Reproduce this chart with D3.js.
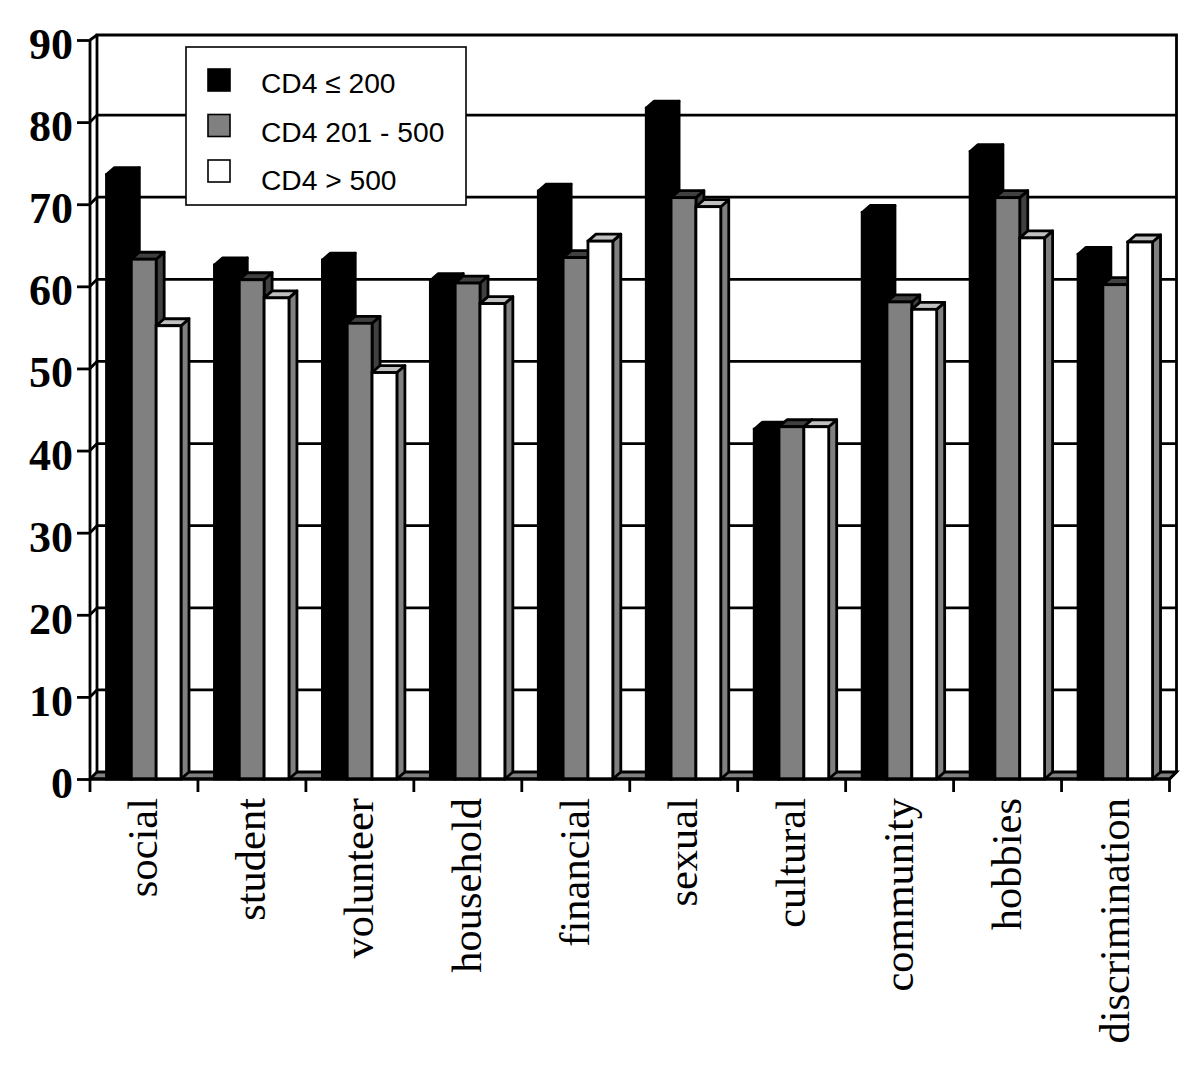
<!DOCTYPE html>
<html><head><meta charset="utf-8">
<script src="https://cdnjs.cloudflare.com/ajax/libs/d3/7.8.5/d3.min.js"></script>
<style>html,body{margin:0;background:#fff}svg{display:block}</style></head>
<body><svg id="c" width="1200" height="1068"></svg>
<script>
const categories=["social","student","volunteer","household","financial","sexual","cultural","community","hobbies","discrimination"];
const seriesNames=["CD4 ≤ 200","CD4 201 - 500","CD4 > 500"];
const low=[73.6,62.6,63.2,60.7,71.6,81.7,42.6,69.0,76.4,63.9];
const mid=[63.3,60.8,55.5,60.4,63.5,70.8,42.9,58.1,70.8,60.2];
const high=[55.2,58.6,49.5,57.9,65.5,69.7,42.9,57.2,65.9,65.4];
const yTicks=[0,10,20,30,40,50,60,70,80,90];
const faceColors=["#000","#808080","#fff"];
const topColors=["#000","#404040","#c0c0c0"];
const sideColors=["#000","#404040","#808080"];

const svg=d3.select("#c");
const x=d3.scaleBand().domain(categories).range([90,1169.5]);
const y=d3.scaleLinear().domain([0,90]).range([779,40]);
const xs=d3.scaleBand().domain([0,1,2]).range([16.5,91]);
const dx=7,dy=7,bdx=8,bdy=7;
const ink="#000",lw=2.8;

// floor
svg.append("path").attr("d",`M90,${y(0)}L${90+dx},${y(0)-dy}H${1169.5+dx}L1169.5,${y(0)}Z`)
  .attr("fill","#808080").attr("stroke",ink).attr("stroke-width",lw);
// gridlines
svg.append("g").selectAll("path").data(yTicks.slice(1,-1)).join("path")
  .attr("d",d=>`M90,${y(d)}L${90+dx},${y(d)-dy}H${1169.5+dx}`)
  .attr("fill","none").attr("stroke",ink).attr("stroke-width",lw);
// wall
svg.append("path").attr("d",`M${90+dx},${y(0)-dy}V${y(90)-5}H${1169.5+dx}V${y(0)-dy}L1169.5,${y(0)}`)
  .attr("fill","none").attr("stroke",ink).attr("stroke-width",lw);
svg.append("path").attr("d",`M90,${y(90)}L${90+dx},${y(90)-5}`).attr("stroke",ink).attr("stroke-width",lw);

// bars
[low,mid,high].forEach((vals,s)=>{
  const g=svg.append("g");
  categories.forEach((c,i)=>{
    const x0=x(c)+xs(s),x1=x0+xs.bandwidth(),t=y(vals[i]),b=y(0);
    g.append("path").attr("d",`M${x1},${b}L${x1+bdx},${b-bdy}V${t-bdy}L${x1},${t}Z`).attr("fill",sideColors[s]).attr("stroke",ink).attr("stroke-width",lw).attr("stroke-linejoin","round");
    g.append("path").attr("d",`M${x0},${t}L${x0+bdx},${t-bdy}H${x1+bdx}L${x1},${t}Z`).attr("fill",topColors[s]).attr("stroke",ink).attr("stroke-width",lw).attr("stroke-linejoin","round");
    g.append("rect").attr("x",x0).attr("y",t).attr("width",x1-x0).attr("height",b-t).attr("fill",faceColors[s]).attr("stroke",ink).attr("stroke-width",lw);
  });
});

// axes
const axY=svg.append("g").attr("transform","translate(90,0)").call(d3.axisLeft(y).tickValues(yTicks).tickSize(13).tickPadding(4).tickFormat(d3.format("d")));
const axX=svg.append("g").attr("transform",`translate(0,${y(0)})`).call(d3.axisBottom(x).tickSize(0).tickFormat(""));
axY.selectAll("line").attr("stroke",ink).attr("stroke-width",lw);
axY.select(".domain").attr("stroke",ink).attr("stroke-width",lw).attr("d",`M0,${y(90)}V${y(0)}`);
axY.selectAll("text").attr("font-family","Liberation Serif").attr("font-weight","bold").attr("font-size",44).attr("fill","#000").attr("dy","0.42em");
axX.select(".domain").attr("stroke",ink).attr("stroke-width",lw).attr("d","M90,0H1169.5");
axX.selectAll("line").remove();
svg.append("g").selectAll("line").data(d3.range(categories.length+1)).join("line")
  .attr("x1",i=>i<categories.length?x(categories[i]):1169.5)
  .attr("x2",i=>i<categories.length?x(categories[i]):1169.5)
  .attr("y1",y(0)).attr("y2",y(0)+13).attr("stroke",ink).attr("stroke-width",lw);
axX.selectAll("text").remove();
svg.append("g").selectAll("text").data(categories).join("text")
  .attr("transform",d=>`translate(${x(d)+x.bandwidth()/2+13.5},798) rotate(-90)`)
  .attr("text-anchor","end").attr("font-family","Liberation Serif").attr("font-size",42.5).attr("fill","#000").text(d=>d);

// legend
const lg=svg.append("g");
lg.append("rect").attr("x",186).attr("y",47).attr("width",280).attr("height",158).attr("fill","#fff").attr("stroke",ink).attr("stroke-width",1.6);
const swY=d3.scalePoint().domain([0,1,2]).range([69,160]);
const txY=d3.scalePoint().domain([0,1,2]).range([93,190]);
seriesNames.forEach((n,i)=>{
  lg.append("rect").attr("x",208).attr("y",swY(i)).attr("width",22).attr("height",22).attr("fill",faceColors[i]).attr("stroke",ink).attr("stroke-width",1.6);
  lg.append("text").attr("x",261).attr("y",txY(i)).attr("font-family","Liberation Sans").attr("font-size",28.2).attr("fill","#000").text(n);
});
</script></body></html>
